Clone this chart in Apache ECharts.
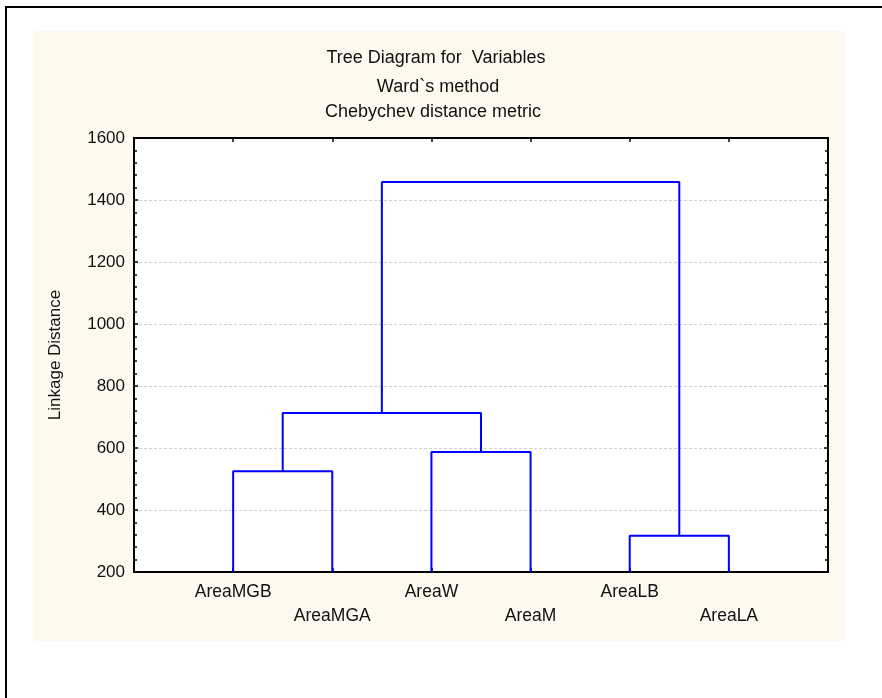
<!DOCTYPE html>
<html>
<head>
<meta charset="utf-8">
<script src="https://cdn.jsdelivr.net/npm/echarts@6/dist/echarts.min.js"></script>
<style>
html,body{margin:0;padding:0;background:#fff;}
#main{width:882px;height:698px;}
</style>
</head>
<body>
<div id="main"></div>
<script>
// ---- data ----
const titleLines = ['Tree Diagram for  Variables', 'Ward`s method', 'Chebychev distance metric'];
const leaves = ['AreaMGB', 'AreaMGA', 'AreaW', 'AreaM', 'AreaLB', 'AreaLA'];
// merges: [left cluster id, right cluster id, linkage distance]; ids >= leaves.length refer to earlier merges
const merges = [
  [0, 1, 525],
  [2, 3, 587],
  [4, 5, 317],
  [6, 7, 713],
  [9, 8, 1458]
];
const yTicks = [200, 400, 600, 800, 1000, 1200, 1400, 1600];
const baseHeight = 200;

// ---- build dendrogram segments ----
const nodeX = leaves.map((_, i) => i + 1);
const nodeH = leaves.map(() => baseHeight);
const series = [];
merges.forEach(([a, b, h]) => {
  series.push({
    type: 'line',
    data: [[nodeX[a], nodeH[a]], [nodeX[a], h], [nodeX[b], h], [nodeX[b], nodeH[b]]],
    showSymbol: false,
    symbol: 'none',
    lineStyle: { color: '#0000ff', width: 2 },
    silent: true,
    animation: false,
    z: 3
  });
  nodeX.push((nodeX[a] + nodeX[b]) / 2);
  nodeH.push(h);
});

const chart = echarts.init(document.getElementById('main'), null, { renderer: 'canvas' });
const FONT = 'Liberation Sans, Arial, sans-serif';
const titleCenters = [436, 438, 433];
const titleTops = [48, 77, 102];

chart.setOption({
  animation: false,
  backgroundColor: '#ffffff',
  title: titleLines.map((t, i) => ({
    text: t,
    left: titleCenters[i],
    top: titleTops[i],
    textAlign: 'center',
    padding: 0,
    textStyle: { fontFamily: FONT, fontSize: 18, fontWeight: 'normal', color: '#111', lineHeight: 20 }
  })),
  graphic: {
    elements: [
      { type: 'rect', z: -10, shape: { x: 34, y: 31, width: 811, height: 610 }, style: { fill: '#fdf9ee' }, silent: true },
      { type: 'polyline', z: 10, shape: { points: [[6, 700], [6, 7], [884, 7]] }, style: { stroke: '#000', lineWidth: 2, fill: null }, silent: true }
    ]
  },
  grid: {
    left: 134, right: 54, top: 138, bottom: 126,
    show: true, backgroundColor: '#ffffff', borderWidth: 0,
    containLabel: false
  },
  xAxis: [
    {
      type: 'value', min: 0, max: leaves.length + 1, interval: 1, position: 'bottom',
      axisLine: { show: true, onZero: false, lineStyle: { color: '#000', width: 2 } },
      axisTick: { show: true, inside: true, length: 4, lineStyle: { color: '#000', width: 1.5 } },
      splitLine: { show: false },
      axisLabel: {
        show: true, margin: 8, fontFamily: FONT, fontSize: 17.5, color: '#111', lineHeight: 24,
        showMinLabel: true, showMaxLabel: true,
        formatter: (v) => {
          const name = leaves[v - 1];
          if (!name) return '';
          return (v % 2 === 1) ? name : '\n' + name;
        }
      }
    },
    {
      type: 'value', min: 0, max: leaves.length + 1, interval: 1, position: 'top',
      axisLine: { show: true, onZero: false, lineStyle: { color: '#000', width: 2 } },
      axisTick: { show: true, inside: true, length: 4, lineStyle: { color: '#000', width: 1.5 } },
      splitLine: { show: false },
      axisLabel: { show: false }
    }
  ],
  yAxis: [
    {
      type: 'value', min: yTicks[0], max: yTicks[yTicks.length - 1], interval: 200, position: 'left',
      name: 'Linkage Distance', nameLocation: 'middle', nameGap: 70, nameRotate: 90,
      nameTextStyle: { fontFamily: FONT, fontSize: 17, color: '#111' },
      axisLine: { show: true, onZero: false, lineStyle: { color: '#000', width: 2 } },
      axisTick: { show: true, inside: true, length: 4, lineStyle: { color: '#000', width: 1.5 } },
      minorTick: { show: true, splitNumber: 5, length: 3, lineStyle: { color: '#000', width: 1.5 } },
      splitLine: { show: true, lineStyle: { color: '#d0d0d0', width: 1, type: [3, 2] } },
      axisLabel: { margin: 9, fontFamily: FONT, fontSize: 17, color: '#111', formatter: (v) => yTicks.includes(v) ? String(v) : '' }
    },
    {
      type: 'value', min: yTicks[0], max: yTicks[yTicks.length - 1], interval: 200, position: 'right',
      axisLine: { show: true, onZero: false, lineStyle: { color: '#000', width: 2 } },
      axisTick: { show: true, inside: true, length: 4, lineStyle: { color: '#000', width: 1.5 } },
      minorTick: { show: true, splitNumber: 5, length: 3, lineStyle: { color: '#000', width: 1.5 } },
      splitLine: { show: false },
      axisLabel: { show: false }
    }
  ],
  series: series
});
</script>
</body>
</html>
